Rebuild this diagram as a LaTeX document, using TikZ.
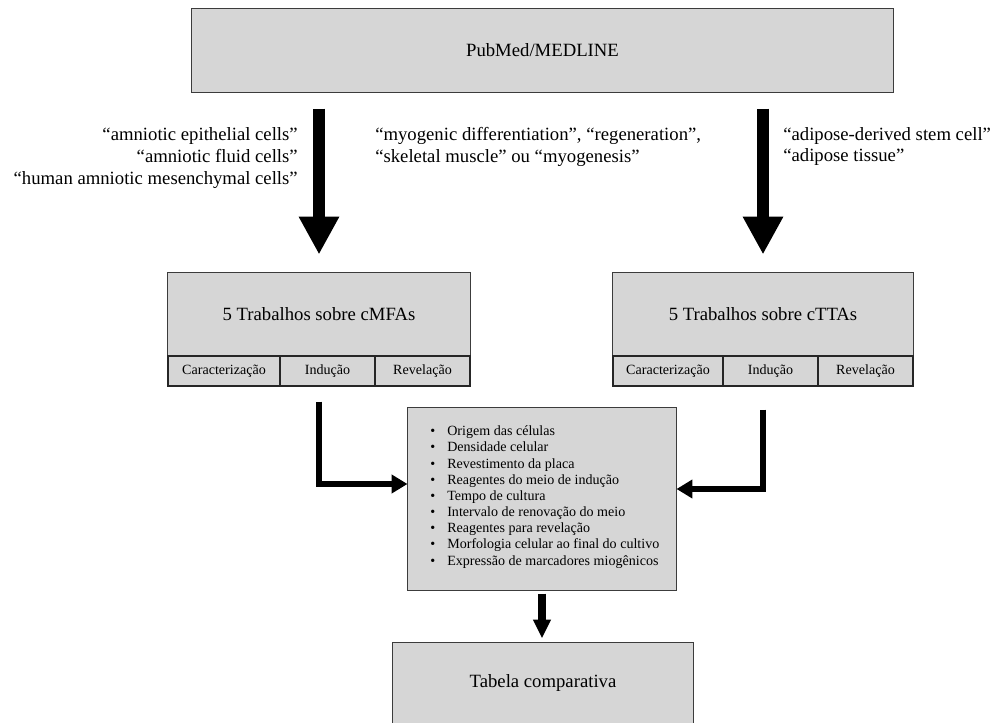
\documentclass[tikz,border=0pt]{standalone}
\usepackage{fontspec}
\setmainfont{Liberation Serif}
\usepackage{tikz}
\usetikzlibrary{arrows.meta}
\usepackage{xcolor}
\definecolor{boxgray}{RGB}{214,214,214}
\definecolor{edgegray}{RGB}{60,60,60}
\newcommand{\litem}[1]{\makebox[0.425cm][l]{\textbullet}#1}

\begin{document}
\begin{tikzpicture}[x=0.025cm, y=-0.025cm, box/.style={draw=edgegray, fill=boxgray, line width=0.7pt, inner sep=0pt, font=\fontsize{13.3}{16}\selectfont}, cell/.style={draw=black!85, fill=boxgray, line width=0.8pt, minimum height=0.75cm, inner sep=0pt, font=\fontsize{10}{12}\selectfont}, term/.style={inner sep=0pt, font=\fontsize{13.3}{15.6}\selectfont}, big arrow/.style={line width=9.2pt, -{Triangle[width=27pt, length=27pt]}}, elbow arrow/.style={line width=4.3pt, -{Triangle[width=12.8pt, length=11.3pt]}}, small arrow/.style={line width=5pt, -{Triangle[width=12pt, length=13.5pt]}}]
\useasboundingbox (0,0) rectangle (991,722);
\node[box, minimum width=17.525cm, minimum height=2.075cm] (pub) at (542.5,50.5) {PubMed/MEDLINE};
\node[box, minimum width=7.55cm, minimum height=2.075cm] (cmfa) at (319,314.5) {5 Trabalhos sobre cMFAs};
\node[box, minimum width=7.5cm, minimum height=2.075cm] (ctta) at (763,314.5) {5 Trabalhos sobre cTTAs};
\node[cell, minimum width=2.8cm] (cmfa car) at (224,371) {Caracterização};
\node[cell, minimum width=2.375cm] (cmfa ind) at (327.5,371) {Indução};
\node[cell, minimum width=2.375cm] (cmfa rev) at (422.5,371) {Revelação};
\node[cell, minimum width=2.75cm] (ctta car) at (668,371) {Caracterização};
\node[cell, minimum width=2.375cm] (ctta ind) at (770.5,371) {Indução};
\node[cell, minimum width=2.375cm] (ctta rev) at (865.5,371) {Revelação};
\node[box, minimum width=6.7cm, minimum height=4.55cm] (params) at (542,499) {};
\node[anchor=west, align=left, inner sep=0pt, font=\fontsize{10}{11.5}\selectfont] (params list) at (430,497) {\litem{Origem das células}\\\litem{Densidade celular}\\\litem{Revestimento da placa}\\\litem{Reagentes do meio de indução}\\\litem{Tempo de cultura}\\\litem{Intervalo de renovação do meio}\\\litem{Reagentes para revelação}\\\litem{Morfologia celular ao final do cultivo}\\\litem{Expressão de marcadores miogênicos}};
\node[box, minimum width=7.5cm, minimum height=2.05cm] (tabela) at (543,683) {Tabela comparativa};
\node[term, anchor=east, align=right] (kw mfa) at (298,158) {“amniotic epithelial cells”\\“amniotic fluid cells”\\“human amniotic mesenchymal cells”};
\node[term, anchor=west, align=left] (kw myo) at (375,146.5) {“myogenic differentiation”, “regeneration”,\\“skeletal muscle” ou “myogenesis”};
\node[term, anchor=west, align=left] (kw tta) at (783,146.5) {“adipose-derived stem cell”\\“adipose tissue”};
\draw[big arrow, shorten <=0.4cm, shorten >=0.45cm] (pub.south -| cmfa.north) -- (cmfa.north);
\draw[big arrow, shorten <=0.4cm, shorten >=0.45cm] (pub.south -| ctta.north) -- (ctta.north);
\draw[elbow arrow] ([yshift=-0.375cm]cmfa.south |- cmfa ind.south) |- ([yshift=0.375cm]params.west);
\draw[elbow arrow] ([yshift=-0.575cm]ctta.south |- ctta ind.south) |- ([yshift=0.25cm]params.east);
\draw[small arrow, shorten <=0.075cm, shorten >=0.075cm] (params.south) -- (params.south |- tabela.north);
\end{tikzpicture}
\end{document}
